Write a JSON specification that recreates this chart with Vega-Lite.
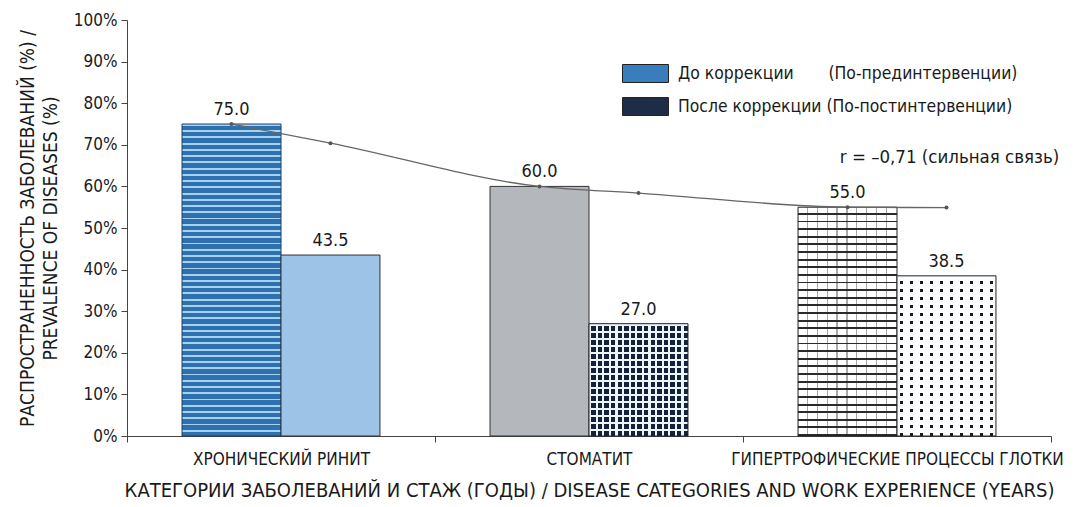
{
  "$schema": "https://vega.github.io/schema/vega-lite/v6.json",
  "width": 924,
  "height": 416,
  "autosize": "none",
  "padding": {"left": 127, "top": 20, "right": 25, "bottom": 71},
  "background": "white",
  "config": {
    "view": {"stroke": null},
    "font": "Liberation Sans Narrow, DejaVu Sans Condensed, Roboto, sans-serif",
    "axis": {"domainColor": "#444", "tickColor": "#444", "labelColor": "#1a1a1a", "titleColor": "#1a1a1a", "titleFontWeight": "normal", "grid": false, "labelLimit": 600}
  },
  "datasets": {
    "bars": [
      {"cat": "ХРОНИЧЕСКИЙ РИНИТ", "grp": "До коррекции", "value": 75.0},
      {"cat": "ХРОНИЧЕСКИЙ РИНИТ", "grp": "После коррекции", "value": 43.5},
      {"cat": "СТОМАТИТ", "grp": "До коррекции", "value": 60.0},
      {"cat": "СТОМАТИТ", "grp": "После коррекции", "value": 27.0},
      {"cat": "ГИПЕРТРОФИЧЕСКИЕ ПРОЦЕССЫ ГЛОТКИ", "grp": "До коррекции", "value": 55.0},
      {"cat": "ГИПЕРТРОФИЧЕСКИЕ ПРОЦЕССЫ ГЛОТКИ", "grp": "После коррекции", "value": 38.5}
    ],
    "trend": [
      {"cat": "ХРОНИЧЕСКИЙ РИНИТ", "grp": "До коррекции", "value": 75.0},
      {"cat": "ХРОНИЧЕСКИЙ РИНИТ", "grp": "После коррекции", "value": 70.4},
      {"cat": "СТОМАТИТ", "grp": "До коррекции", "value": 60.0},
      {"cat": "СТОМАТИТ", "grp": "После коррекции", "value": 58.4},
      {"cat": "ГИПЕРТРОФИЧЕСКИЕ ПРОЦЕССЫ ГЛОТКИ", "grp": "До коррекции", "value": 55.0},
      {"cat": "ГИПЕРТРОФИЧЕСКИЕ ПРОЦЕССЫ ГЛОТКИ", "grp": "После коррекции", "value": 54.9}
    ]
  },
  "data": {"name": "bars"},
  "encoding": {
    "x": {
      "field": "cat", "type": "nominal",
      "sort": ["ХРОНИЧЕСКИЙ РИНИТ", "СТОМАТИТ", "ГИПЕРТРОФИЧЕСКИЕ ПРОЦЕССЫ ГЛОТКИ"],
      "scale": {"paddingInner": 0, "paddingOuter": 0},
      "axis": {
        "title": "КАТЕГОРИИ ЗАБОЛЕВАНИЙ И СТАЖ (ГОДЫ) / DISEASE CATEGORIES AND WORK EXPERIENCE (YEARS)",
        "labelAngle": 0, "tickBand": "extent", "tickSize": 6, "labelPadding": 9,
        "labelFontSize": 17, "titleFontSize": 20, "titlePadding": 13
      }
    },
    "xOffset": {
      "field": "grp", "type": "nominal",
      "sort": ["До коррекции", "После коррекции"],
      "scale": {"paddingInner": 0, "paddingOuter": 0.556}
    },
    "y": {
      "field": "value", "type": "quantitative",
      "scale": {"domain": [0, 100], "nice": false},
      "axis": {
        "values": [0, 10, 20, 30, 40, 50, 60, 70, 80, 90, 100],
        "labelExpr": "datum.value + '%'",
        "tickSize": 6, "labelPadding": 4, "labelFontSize": 17,
        "title": ["РАСПРОСТРАНЕННОСТЬ ЗАБОЛЕВАНИЙ (%) /", "PREVALENCE OF DISEASES (%)"],
        "titleFontSize": 19, "titlePadding": 13, "titleLineHeight": 23
      }
    }
  },
  "layer": [
    {
      "mark": {"type": "bar", "opacity": 0},
      "encoding": {
        "fill": {
          "field": "grp", "type": "nominal",
          "sort": ["До коррекции", "После коррекции"],
          "scale": {"range": ["#3a7dbd", "#1e2d45"]},
          "legend": {
            "title": null, "orient": "none", "legendX": 508, "legendY": 43, "padding": 0,
            "symbolType": "M-2.3,-0.9H2.3V0.9H-2.3Z", "symbolSize": 400,
            "symbolStrokeColor": "#222", "symbolStrokeWidth": 1, "symbolOpacity": 1,
            "labelFontSize": 17.4, "labelColor": "#1a1a1a", "labelOffset": 22, "rowPadding": 10, "labelLimit": 600,
            "labelExpr": "datum.label == 'До коррекции' ? 'До коррекции\u00a0\u00a0\u00a0\u00a0\u00a0\u00a0\u00a0(По-прединтервенции)' : 'После коррекции (По-постинтервенции)'"
          }
        }
      }
    },
    {
      "transform": [{"filter": "datum.cat == 'ХРОНИЧЕСКИЙ РИНИТ' && datum.grp == 'До коррекции'"}],
      "mark": {"type": "bar", "stroke": "#1d3f66", "strokeWidth": 1, "fill": {"gradient": "linear", "x1": 0, "y1": 0, "x2": 0, "y2": 1, "stops": [
        {"offset": 0, "color": "#a4d2f2"}, {"offset": 0.006, "color": "#a4d2f2"}, {"offset": 0.006, "color": "#2f70ae"}, {"offset": 0.02, "color": "#2f70ae"},
        {"offset": 0.02, "color": "#a4d2f2"}, {"offset": 0.026, "color": "#a4d2f2"}, {"offset": 0.026, "color": "#2f70ae"}, {"offset": 0.04, "color": "#2f70ae"},
        {"offset": 0.04, "color": "#a4d2f2"}, {"offset": 0.046, "color": "#a4d2f2"}, {"offset": 0.046, "color": "#2f70ae"}, {"offset": 0.06, "color": "#2f70ae"},
        {"offset": 0.06, "color": "#a4d2f2"}, {"offset": 0.066, "color": "#a4d2f2"}, {"offset": 0.066, "color": "#2f70ae"}, {"offset": 0.08, "color": "#2f70ae"},
        {"offset": 0.08, "color": "#a4d2f2"}, {"offset": 0.086, "color": "#a4d2f2"}, {"offset": 0.086, "color": "#2f70ae"}, {"offset": 0.1, "color": "#2f70ae"},
        {"offset": 0.1, "color": "#a4d2f2"}, {"offset": 0.106, "color": "#a4d2f2"}, {"offset": 0.106, "color": "#2f70ae"}, {"offset": 0.12, "color": "#2f70ae"},
        {"offset": 0.12, "color": "#a4d2f2"}, {"offset": 0.126, "color": "#a4d2f2"}, {"offset": 0.126, "color": "#2f70ae"}, {"offset": 0.14, "color": "#2f70ae"},
        {"offset": 0.14, "color": "#a4d2f2"}, {"offset": 0.146, "color": "#a4d2f2"}, {"offset": 0.146, "color": "#2f70ae"}, {"offset": 0.16, "color": "#2f70ae"},
        {"offset": 0.16, "color": "#a4d2f2"}, {"offset": 0.166, "color": "#a4d2f2"}, {"offset": 0.166, "color": "#2f70ae"}, {"offset": 0.18, "color": "#2f70ae"},
        {"offset": 0.18, "color": "#a4d2f2"}, {"offset": 0.186, "color": "#a4d2f2"}, {"offset": 0.186, "color": "#2f70ae"}, {"offset": 0.2, "color": "#2f70ae"},
        {"offset": 0.2, "color": "#a4d2f2"}, {"offset": 0.206, "color": "#a4d2f2"}, {"offset": 0.206, "color": "#2f70ae"}, {"offset": 0.22, "color": "#2f70ae"},
        {"offset": 0.22, "color": "#a4d2f2"}, {"offset": 0.226, "color": "#a4d2f2"}, {"offset": 0.226, "color": "#2f70ae"}, {"offset": 0.24, "color": "#2f70ae"},
        {"offset": 0.24, "color": "#a4d2f2"}, {"offset": 0.246, "color": "#a4d2f2"}, {"offset": 0.246, "color": "#2f70ae"}, {"offset": 0.26, "color": "#2f70ae"},
        {"offset": 0.26, "color": "#a4d2f2"}, {"offset": 0.266, "color": "#a4d2f2"}, {"offset": 0.266, "color": "#2f70ae"}, {"offset": 0.28, "color": "#2f70ae"},
        {"offset": 0.28, "color": "#a4d2f2"}, {"offset": 0.286, "color": "#a4d2f2"}, {"offset": 0.286, "color": "#2f70ae"}, {"offset": 0.3, "color": "#2f70ae"},
        {"offset": 0.3, "color": "#a4d2f2"}, {"offset": 0.306, "color": "#a4d2f2"}, {"offset": 0.306, "color": "#2f70ae"}, {"offset": 0.32, "color": "#2f70ae"},
        {"offset": 0.32, "color": "#a4d2f2"}, {"offset": 0.326, "color": "#a4d2f2"}, {"offset": 0.326, "color": "#2f70ae"}, {"offset": 0.34, "color": "#2f70ae"},
        {"offset": 0.34, "color": "#a4d2f2"}, {"offset": 0.346, "color": "#a4d2f2"}, {"offset": 0.346, "color": "#2f70ae"}, {"offset": 0.36, "color": "#2f70ae"},
        {"offset": 0.36, "color": "#a4d2f2"}, {"offset": 0.366, "color": "#a4d2f2"}, {"offset": 0.366, "color": "#2f70ae"}, {"offset": 0.38, "color": "#2f70ae"},
        {"offset": 0.38, "color": "#a4d2f2"}, {"offset": 0.386, "color": "#a4d2f2"}, {"offset": 0.386, "color": "#2f70ae"}, {"offset": 0.4, "color": "#2f70ae"},
        {"offset": 0.4, "color": "#a4d2f2"}, {"offset": 0.406, "color": "#a4d2f2"}, {"offset": 0.406, "color": "#2f70ae"}, {"offset": 0.42, "color": "#2f70ae"},
        {"offset": 0.42, "color": "#a4d2f2"}, {"offset": 0.426, "color": "#a4d2f2"}, {"offset": 0.426, "color": "#2f70ae"}, {"offset": 0.44, "color": "#2f70ae"},
        {"offset": 0.44, "color": "#a4d2f2"}, {"offset": 0.446, "color": "#a4d2f2"}, {"offset": 0.446, "color": "#2f70ae"}, {"offset": 0.46, "color": "#2f70ae"},
        {"offset": 0.46, "color": "#a4d2f2"}, {"offset": 0.466, "color": "#a4d2f2"}, {"offset": 0.466, "color": "#2f70ae"}, {"offset": 0.48, "color": "#2f70ae"},
        {"offset": 0.48, "color": "#a4d2f2"}, {"offset": 0.486, "color": "#a4d2f2"}, {"offset": 0.486, "color": "#2f70ae"}, {"offset": 0.5, "color": "#2f70ae"},
        {"offset": 0.5, "color": "#a4d2f2"}, {"offset": 0.506, "color": "#a4d2f2"}, {"offset": 0.506, "color": "#2f70ae"}, {"offset": 0.52, "color": "#2f70ae"},
        {"offset": 0.52, "color": "#a4d2f2"}, {"offset": 0.526, "color": "#a4d2f2"}, {"offset": 0.526, "color": "#2f70ae"}, {"offset": 0.54, "color": "#2f70ae"},
        {"offset": 0.54, "color": "#a4d2f2"}, {"offset": 0.546, "color": "#a4d2f2"}, {"offset": 0.546, "color": "#2f70ae"}, {"offset": 0.56, "color": "#2f70ae"},
        {"offset": 0.56, "color": "#a4d2f2"}, {"offset": 0.566, "color": "#a4d2f2"}, {"offset": 0.566, "color": "#2f70ae"}, {"offset": 0.58, "color": "#2f70ae"},
        {"offset": 0.58, "color": "#a4d2f2"}, {"offset": 0.586, "color": "#a4d2f2"}, {"offset": 0.586, "color": "#2f70ae"}, {"offset": 0.6, "color": "#2f70ae"},
        {"offset": 0.6, "color": "#a4d2f2"}, {"offset": 0.606, "color": "#a4d2f2"}, {"offset": 0.606, "color": "#2f70ae"}, {"offset": 0.62, "color": "#2f70ae"},
        {"offset": 0.62, "color": "#a4d2f2"}, {"offset": 0.626, "color": "#a4d2f2"}, {"offset": 0.626, "color": "#2f70ae"}, {"offset": 0.64, "color": "#2f70ae"},
        {"offset": 0.64, "color": "#a4d2f2"}, {"offset": 0.646, "color": "#a4d2f2"}, {"offset": 0.646, "color": "#2f70ae"}, {"offset": 0.66, "color": "#2f70ae"},
        {"offset": 0.66, "color": "#a4d2f2"}, {"offset": 0.666, "color": "#a4d2f2"}, {"offset": 0.666, "color": "#2f70ae"}, {"offset": 0.68, "color": "#2f70ae"},
        {"offset": 0.68, "color": "#a4d2f2"}, {"offset": 0.686, "color": "#a4d2f2"}, {"offset": 0.686, "color": "#2f70ae"}, {"offset": 0.7, "color": "#2f70ae"},
        {"offset": 0.7, "color": "#a4d2f2"}, {"offset": 0.706, "color": "#a4d2f2"}, {"offset": 0.706, "color": "#2f70ae"}, {"offset": 0.72, "color": "#2f70ae"},
        {"offset": 0.72, "color": "#a4d2f2"}, {"offset": 0.726, "color": "#a4d2f2"}, {"offset": 0.726, "color": "#2f70ae"}, {"offset": 0.74, "color": "#2f70ae"},
        {"offset": 0.74, "color": "#a4d2f2"}, {"offset": 0.746, "color": "#a4d2f2"}, {"offset": 0.746, "color": "#2f70ae"}, {"offset": 0.76, "color": "#2f70ae"},
        {"offset": 0.76, "color": "#a4d2f2"}, {"offset": 0.766, "color": "#a4d2f2"}, {"offset": 0.766, "color": "#2f70ae"}, {"offset": 0.78, "color": "#2f70ae"},
        {"offset": 0.78, "color": "#a4d2f2"}, {"offset": 0.786, "color": "#a4d2f2"}, {"offset": 0.786, "color": "#2f70ae"}, {"offset": 0.8, "color": "#2f70ae"},
        {"offset": 0.8, "color": "#a4d2f2"}, {"offset": 0.806, "color": "#a4d2f2"}, {"offset": 0.806, "color": "#2f70ae"}, {"offset": 0.82, "color": "#2f70ae"},
        {"offset": 0.82, "color": "#a4d2f2"}, {"offset": 0.826, "color": "#a4d2f2"}, {"offset": 0.826, "color": "#2f70ae"}, {"offset": 0.84, "color": "#2f70ae"},
        {"offset": 0.84, "color": "#a4d2f2"}, {"offset": 0.846, "color": "#a4d2f2"}, {"offset": 0.846, "color": "#2f70ae"}, {"offset": 0.86, "color": "#2f70ae"},
        {"offset": 0.86, "color": "#a4d2f2"}, {"offset": 0.866, "color": "#a4d2f2"}, {"offset": 0.866, "color": "#2f70ae"}, {"offset": 0.88, "color": "#2f70ae"},
        {"offset": 0.88, "color": "#a4d2f2"}, {"offset": 0.886, "color": "#a4d2f2"}, {"offset": 0.886, "color": "#2f70ae"}, {"offset": 0.9, "color": "#2f70ae"},
        {"offset": 0.9, "color": "#a4d2f2"}, {"offset": 0.906, "color": "#a4d2f2"}, {"offset": 0.906, "color": "#2f70ae"}, {"offset": 0.92, "color": "#2f70ae"},
        {"offset": 0.92, "color": "#a4d2f2"}, {"offset": 0.926, "color": "#a4d2f2"}, {"offset": 0.926, "color": "#2f70ae"}, {"offset": 0.94, "color": "#2f70ae"},
        {"offset": 0.94, "color": "#a4d2f2"}, {"offset": 0.946, "color": "#a4d2f2"}, {"offset": 0.946, "color": "#2f70ae"}, {"offset": 0.96, "color": "#2f70ae"},
        {"offset": 0.96, "color": "#a4d2f2"}, {"offset": 0.966, "color": "#a4d2f2"}, {"offset": 0.966, "color": "#2f70ae"}, {"offset": 0.98, "color": "#2f70ae"},
        {"offset": 0.98, "color": "#a4d2f2"}, {"offset": 0.986, "color": "#a4d2f2"}, {"offset": 0.986, "color": "#2f70ae"}, {"offset": 1, "color": "#2f70ae"}
      ]}}
    },
    {
      "transform": [{"filter": "datum.cat == 'ХРОНИЧЕСКИЙ РИНИТ' && datum.grp == 'После коррекции'"}],
      "mark": {"type": "bar", "fill": "#9dc3e6", "stroke": "#333", "strokeWidth": 1}
    },
    {
      "transform": [{"filter": "datum.cat == 'СТОМАТИТ' && datum.grp == 'До коррекции'"}],
      "mark": {"type": "bar", "fill": "#b4b7bb", "stroke": "#333", "strokeWidth": 1}
    },
    {
      "transform": [{"filter": "datum.cat == 'СТОМАТИТ' && datum.grp == 'После коррекции'"}],
      "mark": {"type": "bar", "fill": {"gradient": "linear", "x1": 0, "y1": 0, "x2": 0, "y2": 1, "stops": [
        {"offset": 0, "color": "#edf4fa"}, {"offset": 0.022, "color": "#edf4fa"}, {"offset": 0.022, "color": "#14223a"}, {"offset": 0.0625, "color": "#14223a"},
        {"offset": 0.0625, "color": "#edf4fa"}, {"offset": 0.0845, "color": "#edf4fa"}, {"offset": 0.0845, "color": "#14223a"}, {"offset": 0.125, "color": "#14223a"},
        {"offset": 0.125, "color": "#edf4fa"}, {"offset": 0.147, "color": "#edf4fa"}, {"offset": 0.147, "color": "#14223a"}, {"offset": 0.1875, "color": "#14223a"},
        {"offset": 0.1875, "color": "#edf4fa"}, {"offset": 0.2095, "color": "#edf4fa"}, {"offset": 0.2095, "color": "#14223a"}, {"offset": 0.25, "color": "#14223a"},
        {"offset": 0.25, "color": "#edf4fa"}, {"offset": 0.272, "color": "#edf4fa"}, {"offset": 0.272, "color": "#14223a"}, {"offset": 0.3125, "color": "#14223a"},
        {"offset": 0.3125, "color": "#edf4fa"}, {"offset": 0.3345, "color": "#edf4fa"}, {"offset": 0.3345, "color": "#14223a"}, {"offset": 0.375, "color": "#14223a"},
        {"offset": 0.375, "color": "#edf4fa"}, {"offset": 0.397, "color": "#edf4fa"}, {"offset": 0.397, "color": "#14223a"}, {"offset": 0.4375, "color": "#14223a"},
        {"offset": 0.4375, "color": "#edf4fa"}, {"offset": 0.4595, "color": "#edf4fa"}, {"offset": 0.4595, "color": "#14223a"}, {"offset": 0.5, "color": "#14223a"},
        {"offset": 0.5, "color": "#edf4fa"}, {"offset": 0.522, "color": "#edf4fa"}, {"offset": 0.522, "color": "#14223a"}, {"offset": 0.5625, "color": "#14223a"},
        {"offset": 0.5625, "color": "#edf4fa"}, {"offset": 0.5845, "color": "#edf4fa"}, {"offset": 0.5845, "color": "#14223a"}, {"offset": 0.625, "color": "#14223a"},
        {"offset": 0.625, "color": "#edf4fa"}, {"offset": 0.647, "color": "#edf4fa"}, {"offset": 0.647, "color": "#14223a"}, {"offset": 0.6875, "color": "#14223a"},
        {"offset": 0.6875, "color": "#edf4fa"}, {"offset": 0.7095, "color": "#edf4fa"}, {"offset": 0.7095, "color": "#14223a"}, {"offset": 0.75, "color": "#14223a"},
        {"offset": 0.75, "color": "#edf4fa"}, {"offset": 0.772, "color": "#edf4fa"}, {"offset": 0.772, "color": "#14223a"}, {"offset": 0.8125, "color": "#14223a"},
        {"offset": 0.8125, "color": "#edf4fa"}, {"offset": 0.8345, "color": "#edf4fa"}, {"offset": 0.8345, "color": "#14223a"}, {"offset": 0.875, "color": "#14223a"},
        {"offset": 0.875, "color": "#edf4fa"}, {"offset": 0.897, "color": "#edf4fa"}, {"offset": 0.897, "color": "#14223a"}, {"offset": 0.9375, "color": "#14223a"},
        {"offset": 0.9375, "color": "#edf4fa"}, {"offset": 0.9595, "color": "#edf4fa"}, {"offset": 0.9595, "color": "#14223a"}, {"offset": 1, "color": "#14223a"}
      ]}}
    },
    {
      "transform": [{"filter": "datum.cat == 'СТОМАТИТ' && datum.grp == 'После коррекции'"}],
      "mark": {"type": "bar", "stroke": "#222", "strokeWidth": 1, "fill": {"gradient": "linear", "x1": 0, "y1": 0, "x2": 1, "y2": 0, "stops": [
        {"offset": 0, "color": "#edf4fa"}, {"offset": 0.0233, "color": "#edf4fa"}, {"offset": 0.0233, "color": "rgba(0,0,0,0)"}, {"offset": 0.0667, "color": "rgba(0,0,0,0)"},
        {"offset": 0.0667, "color": "#edf4fa"}, {"offset": 0.09, "color": "#edf4fa"}, {"offset": 0.09, "color": "rgba(0,0,0,0)"}, {"offset": 0.1333, "color": "rgba(0,0,0,0)"},
        {"offset": 0.1333, "color": "#edf4fa"}, {"offset": 0.1566, "color": "#edf4fa"}, {"offset": 0.1566, "color": "rgba(0,0,0,0)"}, {"offset": 0.2, "color": "rgba(0,0,0,0)"},
        {"offset": 0.2, "color": "#edf4fa"}, {"offset": 0.2233, "color": "#edf4fa"}, {"offset": 0.2233, "color": "rgba(0,0,0,0)"}, {"offset": 0.2667, "color": "rgba(0,0,0,0)"},
        {"offset": 0.2667, "color": "#edf4fa"}, {"offset": 0.29, "color": "#edf4fa"}, {"offset": 0.29, "color": "rgba(0,0,0,0)"}, {"offset": 0.3333, "color": "rgba(0,0,0,0)"},
        {"offset": 0.3333, "color": "#edf4fa"}, {"offset": 0.3566, "color": "#edf4fa"}, {"offset": 0.3566, "color": "rgba(0,0,0,0)"}, {"offset": 0.4, "color": "rgba(0,0,0,0)"},
        {"offset": 0.4, "color": "#edf4fa"}, {"offset": 0.4233, "color": "#edf4fa"}, {"offset": 0.4233, "color": "rgba(0,0,0,0)"}, {"offset": 0.4667, "color": "rgba(0,0,0,0)"},
        {"offset": 0.4667, "color": "#edf4fa"}, {"offset": 0.49, "color": "#edf4fa"}, {"offset": 0.49, "color": "rgba(0,0,0,0)"}, {"offset": 0.5333, "color": "rgba(0,0,0,0)"},
        {"offset": 0.5333, "color": "#edf4fa"}, {"offset": 0.5566, "color": "#edf4fa"}, {"offset": 0.5566, "color": "rgba(0,0,0,0)"}, {"offset": 0.6, "color": "rgba(0,0,0,0)"},
        {"offset": 0.6, "color": "#edf4fa"}, {"offset": 0.6233, "color": "#edf4fa"}, {"offset": 0.6233, "color": "rgba(0,0,0,0)"}, {"offset": 0.6667, "color": "rgba(0,0,0,0)"},
        {"offset": 0.6667, "color": "#edf4fa"}, {"offset": 0.69, "color": "#edf4fa"}, {"offset": 0.69, "color": "rgba(0,0,0,0)"}, {"offset": 0.7333, "color": "rgba(0,0,0,0)"},
        {"offset": 0.7333, "color": "#edf4fa"}, {"offset": 0.7566, "color": "#edf4fa"}, {"offset": 0.7566, "color": "rgba(0,0,0,0)"}, {"offset": 0.8, "color": "rgba(0,0,0,0)"},
        {"offset": 0.8, "color": "#edf4fa"}, {"offset": 0.8233, "color": "#edf4fa"}, {"offset": 0.8233, "color": "rgba(0,0,0,0)"}, {"offset": 0.8667, "color": "rgba(0,0,0,0)"},
        {"offset": 0.8667, "color": "#edf4fa"}, {"offset": 0.89, "color": "#edf4fa"}, {"offset": 0.89, "color": "rgba(0,0,0,0)"}, {"offset": 0.9333, "color": "rgba(0,0,0,0)"},
        {"offset": 0.9333, "color": "#edf4fa"}, {"offset": 0.9566, "color": "#edf4fa"}, {"offset": 0.9566, "color": "rgba(0,0,0,0)"}, {"offset": 1, "color": "rgba(0,0,0,0)"}
      ]}}
    },
    {
      "transform": [{"filter": "datum.cat == 'ГИПЕРТРОФИЧЕСКИЕ ПРОЦЕССЫ ГЛОТКИ' && datum.grp == 'До коррекции'"}],
      "mark": {"type": "bar", "fill": {"gradient": "linear", "x1": 0, "y1": 0, "x2": 0, "y2": 1, "stops": [
        {"offset": 0, "color": "#ffffff"}, {"offset": 0.025, "color": "#ffffff"}, {"offset": 0.025, "color": "#2a2a2a"}, {"offset": 0.0333, "color": "#2a2a2a"},
        {"offset": 0.0333, "color": "#ffffff"}, {"offset": 0.0583, "color": "#ffffff"}, {"offset": 0.0583, "color": "#2a2a2a"}, {"offset": 0.0667, "color": "#2a2a2a"},
        {"offset": 0.0667, "color": "#ffffff"}, {"offset": 0.0917, "color": "#ffffff"}, {"offset": 0.0917, "color": "#2a2a2a"}, {"offset": 0.1, "color": "#2a2a2a"},
        {"offset": 0.1, "color": "#ffffff"}, {"offset": 0.125, "color": "#ffffff"}, {"offset": 0.125, "color": "#2a2a2a"}, {"offset": 0.1333, "color": "#2a2a2a"},
        {"offset": 0.1333, "color": "#ffffff"}, {"offset": 0.1583, "color": "#ffffff"}, {"offset": 0.1583, "color": "#2a2a2a"}, {"offset": 0.1667, "color": "#2a2a2a"},
        {"offset": 0.1667, "color": "#ffffff"}, {"offset": 0.1917, "color": "#ffffff"}, {"offset": 0.1917, "color": "#2a2a2a"}, {"offset": 0.2, "color": "#2a2a2a"},
        {"offset": 0.2, "color": "#ffffff"}, {"offset": 0.225, "color": "#ffffff"}, {"offset": 0.225, "color": "#2a2a2a"}, {"offset": 0.2333, "color": "#2a2a2a"},
        {"offset": 0.2333, "color": "#ffffff"}, {"offset": 0.2583, "color": "#ffffff"}, {"offset": 0.2583, "color": "#2a2a2a"}, {"offset": 0.2667, "color": "#2a2a2a"},
        {"offset": 0.2667, "color": "#ffffff"}, {"offset": 0.2917, "color": "#ffffff"}, {"offset": 0.2917, "color": "#2a2a2a"}, {"offset": 0.3, "color": "#2a2a2a"},
        {"offset": 0.3, "color": "#ffffff"}, {"offset": 0.325, "color": "#ffffff"}, {"offset": 0.325, "color": "#2a2a2a"}, {"offset": 0.3333, "color": "#2a2a2a"},
        {"offset": 0.3333, "color": "#ffffff"}, {"offset": 0.3583, "color": "#ffffff"}, {"offset": 0.3583, "color": "#2a2a2a"}, {"offset": 0.3667, "color": "#2a2a2a"},
        {"offset": 0.3667, "color": "#ffffff"}, {"offset": 0.3917, "color": "#ffffff"}, {"offset": 0.3917, "color": "#2a2a2a"}, {"offset": 0.4, "color": "#2a2a2a"},
        {"offset": 0.4, "color": "#ffffff"}, {"offset": 0.425, "color": "#ffffff"}, {"offset": 0.425, "color": "#2a2a2a"}, {"offset": 0.4333, "color": "#2a2a2a"},
        {"offset": 0.4333, "color": "#ffffff"}, {"offset": 0.4583, "color": "#ffffff"}, {"offset": 0.4583, "color": "#2a2a2a"}, {"offset": 0.4667, "color": "#2a2a2a"},
        {"offset": 0.4667, "color": "#ffffff"}, {"offset": 0.4917, "color": "#ffffff"}, {"offset": 0.4917, "color": "#2a2a2a"}, {"offset": 0.5, "color": "#2a2a2a"},
        {"offset": 0.5, "color": "#ffffff"}, {"offset": 0.525, "color": "#ffffff"}, {"offset": 0.525, "color": "#2a2a2a"}, {"offset": 0.5333, "color": "#2a2a2a"},
        {"offset": 0.5333, "color": "#ffffff"}, {"offset": 0.5583, "color": "#ffffff"}, {"offset": 0.5583, "color": "#2a2a2a"}, {"offset": 0.5667, "color": "#2a2a2a"},
        {"offset": 0.5667, "color": "#ffffff"}, {"offset": 0.5917, "color": "#ffffff"}, {"offset": 0.5917, "color": "#2a2a2a"}, {"offset": 0.6, "color": "#2a2a2a"},
        {"offset": 0.6, "color": "#ffffff"}, {"offset": 0.625, "color": "#ffffff"}, {"offset": 0.625, "color": "#2a2a2a"}, {"offset": 0.6333, "color": "#2a2a2a"},
        {"offset": 0.6333, "color": "#ffffff"}, {"offset": 0.6583, "color": "#ffffff"}, {"offset": 0.6583, "color": "#2a2a2a"}, {"offset": 0.6667, "color": "#2a2a2a"},
        {"offset": 0.6667, "color": "#ffffff"}, {"offset": 0.6917, "color": "#ffffff"}, {"offset": 0.6917, "color": "#2a2a2a"}, {"offset": 0.7, "color": "#2a2a2a"},
        {"offset": 0.7, "color": "#ffffff"}, {"offset": 0.725, "color": "#ffffff"}, {"offset": 0.725, "color": "#2a2a2a"}, {"offset": 0.7333, "color": "#2a2a2a"},
        {"offset": 0.7333, "color": "#ffffff"}, {"offset": 0.7583, "color": "#ffffff"}, {"offset": 0.7583, "color": "#2a2a2a"}, {"offset": 0.7667, "color": "#2a2a2a"},
        {"offset": 0.7667, "color": "#ffffff"}, {"offset": 0.7917, "color": "#ffffff"}, {"offset": 0.7917, "color": "#2a2a2a"}, {"offset": 0.8, "color": "#2a2a2a"},
        {"offset": 0.8, "color": "#ffffff"}, {"offset": 0.825, "color": "#ffffff"}, {"offset": 0.825, "color": "#2a2a2a"}, {"offset": 0.8333, "color": "#2a2a2a"},
        {"offset": 0.8333, "color": "#ffffff"}, {"offset": 0.8583, "color": "#ffffff"}, {"offset": 0.8583, "color": "#2a2a2a"}, {"offset": 0.8667, "color": "#2a2a2a"},
        {"offset": 0.8667, "color": "#ffffff"}, {"offset": 0.8917, "color": "#ffffff"}, {"offset": 0.8917, "color": "#2a2a2a"}, {"offset": 0.9, "color": "#2a2a2a"},
        {"offset": 0.9, "color": "#ffffff"}, {"offset": 0.925, "color": "#ffffff"}, {"offset": 0.925, "color": "#2a2a2a"}, {"offset": 0.9333, "color": "#2a2a2a"},
        {"offset": 0.9333, "color": "#ffffff"}, {"offset": 0.9583, "color": "#ffffff"}, {"offset": 0.9583, "color": "#2a2a2a"}, {"offset": 0.9667, "color": "#2a2a2a"},
        {"offset": 0.9667, "color": "#ffffff"}, {"offset": 0.9917, "color": "#ffffff"}, {"offset": 0.9917, "color": "#2a2a2a"}, {"offset": 1, "color": "#2a2a2a"}
      ]}}
    },
    {
      "transform": [{"filter": "datum.cat == 'ГИПЕРТРОФИЧЕСКИЕ ПРОЦЕССЫ ГЛОТКИ' && datum.grp == 'До коррекции'"}],
      "mark": {"type": "bar", "stroke": "#222", "strokeWidth": 1, "fill": {"gradient": "linear", "x1": 0, "y1": 0, "x2": 1, "y2": 0, "stops": [
        {"offset": 0, "color": "rgba(0,0,0,0)"}, {"offset": 0.088, "color": "rgba(0,0,0,0)"}, {"offset": 0.088, "color": "rgba(40,40,40,0.4)"}, {"offset": 0.1, "color": "rgba(40,40,40,0.4)"},
        {"offset": 0.1, "color": "rgba(0,0,0,0)"}, {"offset": 0.188, "color": "rgba(0,0,0,0)"}, {"offset": 0.188, "color": "rgba(40,40,40,0.4)"}, {"offset": 0.2, "color": "rgba(40,40,40,0.4)"},
        {"offset": 0.2, "color": "rgba(0,0,0,0)"}, {"offset": 0.288, "color": "rgba(0,0,0,0)"}, {"offset": 0.288, "color": "rgba(40,40,40,0.4)"}, {"offset": 0.3, "color": "rgba(40,40,40,0.4)"},
        {"offset": 0.3, "color": "rgba(0,0,0,0)"}, {"offset": 0.388, "color": "rgba(0,0,0,0)"}, {"offset": 0.388, "color": "rgba(40,40,40,0.4)"}, {"offset": 0.4, "color": "rgba(40,40,40,0.4)"},
        {"offset": 0.4, "color": "rgba(0,0,0,0)"}, {"offset": 0.488, "color": "rgba(0,0,0,0)"}, {"offset": 0.488, "color": "rgba(40,40,40,0.4)"}, {"offset": 0.5, "color": "rgba(40,40,40,0.4)"},
        {"offset": 0.5, "color": "rgba(0,0,0,0)"}, {"offset": 0.588, "color": "rgba(0,0,0,0)"}, {"offset": 0.588, "color": "rgba(40,40,40,0.4)"}, {"offset": 0.6, "color": "rgba(40,40,40,0.4)"},
        {"offset": 0.6, "color": "rgba(0,0,0,0)"}, {"offset": 0.688, "color": "rgba(0,0,0,0)"}, {"offset": 0.688, "color": "rgba(40,40,40,0.4)"}, {"offset": 0.7, "color": "rgba(40,40,40,0.4)"},
        {"offset": 0.7, "color": "rgba(0,0,0,0)"}, {"offset": 0.788, "color": "rgba(0,0,0,0)"}, {"offset": 0.788, "color": "rgba(40,40,40,0.4)"}, {"offset": 0.8, "color": "rgba(40,40,40,0.4)"},
        {"offset": 0.8, "color": "rgba(0,0,0,0)"}, {"offset": 0.888, "color": "rgba(0,0,0,0)"}, {"offset": 0.888, "color": "rgba(40,40,40,0.4)"}, {"offset": 0.9, "color": "rgba(40,40,40,0.4)"},
        {"offset": 0.9, "color": "rgba(0,0,0,0)"}, {"offset": 1, "color": "rgba(0,0,0,0)"}
      ]}}
    },
    {
      "transform": [{"filter": "datum.cat == 'ГИПЕРТРОФИЧЕСКИЕ ПРОЦЕССЫ ГЛОТКИ' && datum.grp == 'После коррекции'"}],
      "mark": {"type": "bar", "fill": {"gradient": "linear", "x1": 0, "y1": 0, "x2": 0, "y2": 1, "stops": [
        {"offset": 0, "color": "#fbfdff"}, {"offset": 0.0325, "color": "#fbfdff"}, {"offset": 0.0325, "color": "#1a1a1a"}, {"offset": 0.05, "color": "#1a1a1a"},
        {"offset": 0.05, "color": "#fbfdff"}, {"offset": 0.0825, "color": "#fbfdff"}, {"offset": 0.0825, "color": "#1a1a1a"}, {"offset": 0.1, "color": "#1a1a1a"},
        {"offset": 0.1, "color": "#fbfdff"}, {"offset": 0.1325, "color": "#fbfdff"}, {"offset": 0.1325, "color": "#1a1a1a"}, {"offset": 0.15, "color": "#1a1a1a"},
        {"offset": 0.15, "color": "#fbfdff"}, {"offset": 0.1825, "color": "#fbfdff"}, {"offset": 0.1825, "color": "#1a1a1a"}, {"offset": 0.2, "color": "#1a1a1a"},
        {"offset": 0.2, "color": "#fbfdff"}, {"offset": 0.2325, "color": "#fbfdff"}, {"offset": 0.2325, "color": "#1a1a1a"}, {"offset": 0.25, "color": "#1a1a1a"},
        {"offset": 0.25, "color": "#fbfdff"}, {"offset": 0.2825, "color": "#fbfdff"}, {"offset": 0.2825, "color": "#1a1a1a"}, {"offset": 0.3, "color": "#1a1a1a"},
        {"offset": 0.3, "color": "#fbfdff"}, {"offset": 0.3325, "color": "#fbfdff"}, {"offset": 0.3325, "color": "#1a1a1a"}, {"offset": 0.35, "color": "#1a1a1a"},
        {"offset": 0.35, "color": "#fbfdff"}, {"offset": 0.3825, "color": "#fbfdff"}, {"offset": 0.3825, "color": "#1a1a1a"}, {"offset": 0.4, "color": "#1a1a1a"},
        {"offset": 0.4, "color": "#fbfdff"}, {"offset": 0.4325, "color": "#fbfdff"}, {"offset": 0.4325, "color": "#1a1a1a"}, {"offset": 0.45, "color": "#1a1a1a"},
        {"offset": 0.45, "color": "#fbfdff"}, {"offset": 0.4825, "color": "#fbfdff"}, {"offset": 0.4825, "color": "#1a1a1a"}, {"offset": 0.5, "color": "#1a1a1a"},
        {"offset": 0.5, "color": "#fbfdff"}, {"offset": 0.5325, "color": "#fbfdff"}, {"offset": 0.5325, "color": "#1a1a1a"}, {"offset": 0.55, "color": "#1a1a1a"},
        {"offset": 0.55, "color": "#fbfdff"}, {"offset": 0.5825, "color": "#fbfdff"}, {"offset": 0.5825, "color": "#1a1a1a"}, {"offset": 0.6, "color": "#1a1a1a"},
        {"offset": 0.6, "color": "#fbfdff"}, {"offset": 0.6325, "color": "#fbfdff"}, {"offset": 0.6325, "color": "#1a1a1a"}, {"offset": 0.65, "color": "#1a1a1a"},
        {"offset": 0.65, "color": "#fbfdff"}, {"offset": 0.6825, "color": "#fbfdff"}, {"offset": 0.6825, "color": "#1a1a1a"}, {"offset": 0.7, "color": "#1a1a1a"},
        {"offset": 0.7, "color": "#fbfdff"}, {"offset": 0.7325, "color": "#fbfdff"}, {"offset": 0.7325, "color": "#1a1a1a"}, {"offset": 0.75, "color": "#1a1a1a"},
        {"offset": 0.75, "color": "#fbfdff"}, {"offset": 0.7825, "color": "#fbfdff"}, {"offset": 0.7825, "color": "#1a1a1a"}, {"offset": 0.8, "color": "#1a1a1a"},
        {"offset": 0.8, "color": "#fbfdff"}, {"offset": 0.8325, "color": "#fbfdff"}, {"offset": 0.8325, "color": "#1a1a1a"}, {"offset": 0.85, "color": "#1a1a1a"},
        {"offset": 0.85, "color": "#fbfdff"}, {"offset": 0.8825, "color": "#fbfdff"}, {"offset": 0.8825, "color": "#1a1a1a"}, {"offset": 0.9, "color": "#1a1a1a"},
        {"offset": 0.9, "color": "#fbfdff"}, {"offset": 0.9325, "color": "#fbfdff"}, {"offset": 0.9325, "color": "#1a1a1a"}, {"offset": 0.95, "color": "#1a1a1a"},
        {"offset": 0.95, "color": "#fbfdff"}, {"offset": 0.9825, "color": "#fbfdff"}, {"offset": 0.9825, "color": "#1a1a1a"}, {"offset": 1, "color": "#1a1a1a"}
      ]}}
    },
    {
      "transform": [{"filter": "datum.cat == 'ГИПЕРТРОФИЧЕСКИЕ ПРОЦЕССЫ ГЛОТКИ' && datum.grp == 'После коррекции'"}],
      "mark": {"type": "bar", "stroke": "#222", "strokeWidth": 1, "fill": {"gradient": "linear", "x1": 0, "y1": 0, "x2": 1, "y2": 0, "stops": [
        {"offset": 0, "color": "#fbfdff"},
        {"offset": 0.035, "color": "#fbfdff"}, {"offset": 0.035, "color": "rgba(0,0,0,0)"}, {"offset": 0.065, "color": "rgba(0,0,0,0)"}, {"offset": 0.065, "color": "#fbfdff"},
        {"offset": 0.135, "color": "#fbfdff"}, {"offset": 0.135, "color": "rgba(0,0,0,0)"}, {"offset": 0.165, "color": "rgba(0,0,0,0)"}, {"offset": 0.165, "color": "#fbfdff"},
        {"offset": 0.235, "color": "#fbfdff"}, {"offset": 0.235, "color": "rgba(0,0,0,0)"}, {"offset": 0.265, "color": "rgba(0,0,0,0)"}, {"offset": 0.265, "color": "#fbfdff"},
        {"offset": 0.335, "color": "#fbfdff"}, {"offset": 0.335, "color": "rgba(0,0,0,0)"}, {"offset": 0.365, "color": "rgba(0,0,0,0)"}, {"offset": 0.365, "color": "#fbfdff"},
        {"offset": 0.435, "color": "#fbfdff"}, {"offset": 0.435, "color": "rgba(0,0,0,0)"}, {"offset": 0.465, "color": "rgba(0,0,0,0)"}, {"offset": 0.465, "color": "#fbfdff"},
        {"offset": 0.535, "color": "#fbfdff"}, {"offset": 0.535, "color": "rgba(0,0,0,0)"}, {"offset": 0.565, "color": "rgba(0,0,0,0)"}, {"offset": 0.565, "color": "#fbfdff"},
        {"offset": 0.635, "color": "#fbfdff"}, {"offset": 0.635, "color": "rgba(0,0,0,0)"}, {"offset": 0.665, "color": "rgba(0,0,0,0)"}, {"offset": 0.665, "color": "#fbfdff"},
        {"offset": 0.735, "color": "#fbfdff"}, {"offset": 0.735, "color": "rgba(0,0,0,0)"}, {"offset": 0.765, "color": "rgba(0,0,0,0)"}, {"offset": 0.765, "color": "#fbfdff"},
        {"offset": 0.835, "color": "#fbfdff"}, {"offset": 0.835, "color": "rgba(0,0,0,0)"}, {"offset": 0.865, "color": "rgba(0,0,0,0)"}, {"offset": 0.865, "color": "#fbfdff"},
        {"offset": 0.935, "color": "#fbfdff"}, {"offset": 0.935, "color": "rgba(0,0,0,0)"}, {"offset": 0.965, "color": "rgba(0,0,0,0)"}, {"offset": 0.965, "color": "#fbfdff"},
        {"offset": 1, "color": "#fbfdff"}
      ]}}
    },
    {
      "mark": {"type": "text", "baseline": "alphabetic", "dy": -9, "fontSize": 18, "color": "#1a1a1a"},
      "encoding": {"text": {"field": "value", "type": "quantitative", "format": ".1f"}}
    },
    {
      "data": {"name": "trend"},
      "mark": {"type": "line", "interpolate": "monotone", "color": "#666", "strokeWidth": 1.3, "point": {"filled": true, "size": 16, "color": "#555"}},
      "encoding": {"order": {"field": "value", "type": "quantitative", "sort": "descending"}}
    },
    {
      "data": {"name": "trend"},
      "transform": [{"filter": "datum.cat == 'ГИПЕРТРОФИЧЕСКИЕ ПРОЦЕССЫ ГЛОТКИ' && datum.grp == 'После коррекции'"}],
      "mark": {"type": "text", "align": "center", "baseline": "middle", "fontSize": 18.5, "color": "#1a1a1a", "dy": -51, "dx": 3},
      "encoding": {"text": {"value": "r = –0,71 (сильная связь)"}}
    }
  ]
}
